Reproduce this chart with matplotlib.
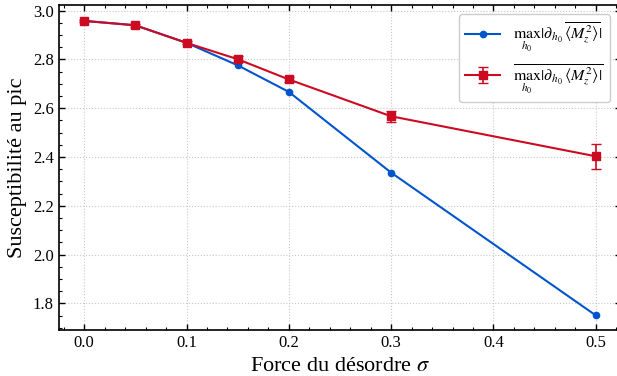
import matplotlib
matplotlib.use("Agg")
import matplotlib.pyplot as plt
from matplotlib.ticker import AutoMinorLocator

plt.rcParams['font.family'] = ['Liberation Serif', 'DejaVu Serif']
plt.rcParams['mathtext.fontset'] = 'stix'

# force du désordre
sigma = [0.0, 0.05, 0.1, 0.15, 0.2, 0.3, 0.5]
# pic de la susceptibilité moyennée
pic_moy = [2.958, 2.940, 2.868, 2.776, 2.667, 2.336, 1.751]
# moyenne des pics, avec barres d'erreur
pic_ech = [2.958, 2.940, 2.868, 2.801, 2.718, 2.567, 2.403]
pic_err = [0.005, 0.005, 0.006, 0.012, 0.010, 0.022, 0.052]

lab_moy = r'$\max_{h_0}|\partial_{h_0}\,\overline{\langle M_z^2\rangle}|$'
lab_ech = r'$\overline{\max_{h_0}|\partial_{h_0}\,\langle M_z^2\rangle|}$'

fig, ax = plt.subplots(figsize=(6.17, 3.76), dpi=100)
fig.subplots_adjust(left=0.095, right=1.007, top=0.987, bottom=0.122)

ax.plot(sigma, pic_moy, '-o', color='#0055cc', lw=1.5, ms=4.5, label=lab_moy)
ax.errorbar(sigma, pic_ech, yerr=pic_err, fmt='-s', color='#cc0a22', lw=1.5,
            ms=5.5, capsize=3.5, elinewidth=1.2, label=lab_ech)

ax.set_xlabel(r'Force du désordre $\sigma$', fontsize=16)
ax.set_ylabel('Susceptibilité au pic', fontsize=16)

ax.xaxis.set_minor_locator(AutoMinorLocator(5))
ax.yaxis.set_minor_locator(AutoMinorLocator(4))
ax.tick_params(which='both', direction='in', top=True, right=True, labelsize=12)
ax.tick_params(which='major', length=4, width=1)
ax.tick_params(which='minor', length=2, width=0.8)
for s in ax.spines.values():
    s.set_linewidth(1.2)

ax.grid(True, ls=':', color='#c8c8c8', lw=0.8)
ax.legend(loc='upper right', fontsize=11.5, framealpha=1, edgecolor='#cccccc',
          fancybox=True, handlelength=2.2, labelspacing=0.5,
          borderaxespad=0.6, bbox_to_anchor=(0.997, 1.0))

plt.savefig("out.png")
